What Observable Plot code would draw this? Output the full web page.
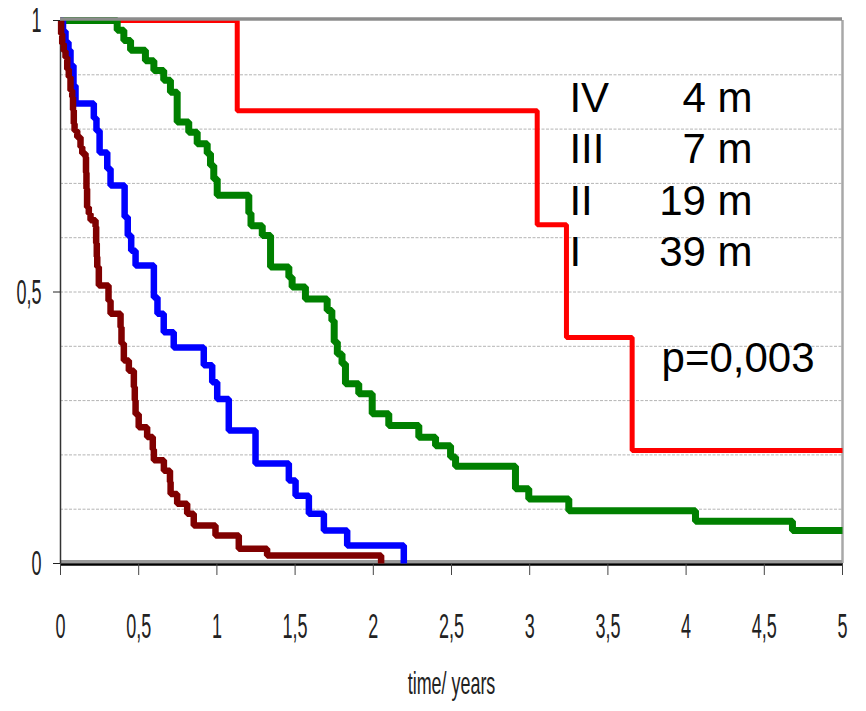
<!DOCTYPE html>
<html><head><meta charset="utf-8">
<script src="https://cdn.jsdelivr.net/npm/d3@7"></script>
<script src="https://cdn.jsdelivr.net/npm/@observablehq/plot@0.6"></script>
<style>body{margin:0;background:#fff;}</style>
</head><body><div id="chart"></div>
<script>
// ---- data (time in years, survival probability) ----
const stageI_t = [0, 1.13, 3.048, 3.235, 3.655, 5];
const stageI_s = [1, 0.834, 0.624, 0.416, 0.208, 0.208];

const stageII_t = [0, 0.3625, 0.405, 0.448, 0.543, 0.597, 0.660, 0.703, 0.746, 0.820, 0.874, 0.938, 0.959, 0.980, 1.002, 1.204, 1.218, 1.290, 1.343, 1.460, 1.481, 1.566, 1.705, 1.735, 1.750, 1.770, 1.800, 1.822, 1.907, 1.993, 2.099, 2.291, 2.398, 2.494, 2.526, 2.909, 2.994, 3.250, 4.060, 4.680, 5];
const stageII_s = [1, 0.982, 0.963, 0.945, 0.926, 0.908, 0.890, 0.868, 0.813, 0.794, 0.773, 0.755, 0.733, 0.708, 0.678, 0.645, 0.622, 0.604, 0.546, 0.527, 0.509, 0.487, 0.466, 0.447, 0.408, 0.386, 0.368, 0.331, 0.3125, 0.276, 0.254, 0.2326, 0.217, 0.196, 0.179, 0.1375, 0.119, 0.097, 0.078, 0.061, 0.061];

const stageIII_t = [0, 0.016, 0.032, 0.051, 0.064, 0.083, 0.096, 0.213, 0.230, 0.250, 0.299, 0.320, 0.410, 0.430, 0.452, 0.480, 0.597, 0.620, 0.660, 0.724, 0.916, 0.970, 1.002, 1.076, 1.247, 1.460, 1.503, 1.588, 1.684, 1.833, 2.195];
const stageIII_s = [1, 0.98, 0.96, 0.945, 0.917, 0.88, 0.847, 0.82, 0.797, 0.757, 0.727, 0.696, 0.638, 0.604, 0.576, 0.549, 0.49, 0.46, 0.426, 0.398, 0.365, 0.334, 0.303, 0.245, 0.184, 0.153, 0.125, 0.0915, 0.061, 0.033, 0];

const stageIV_t = [0, 0.004, 0.011, 0.021, 0.032, 0.043, 0.053, 0.064, 0.075, 0.080, 0.085, 0.090, 0.107, 0.128, 0.139, 0.160, 0.163, 0.166, 0.170, 0.181, 0.192, 0.224, 0.228, 0.232, 0.235, 0.245, 0.307, 0.320, 0.384, 0.390, 0.405, 0.437, 0.469, 0.475, 0.480, 0.500, 0.554, 0.590, 0.597, 0.661, 0.700, 0.704, 0.746, 0.810, 0.852, 0.991, 1.140, 1.321, 2.050];
const stageIV_s = [1, 0.975, 0.957, 0.944, 0.932, 0.91, 0.896, 0.871, 0.859, 0.835, 0.81, 0.797, 0.785, 0.767, 0.755, 0.748, 0.72, 0.69, 0.656, 0.644, 0.632, 0.62, 0.59, 0.565, 0.546, 0.512, 0.484, 0.46, 0.435, 0.405, 0.374, 0.355, 0.325, 0.30, 0.275, 0.251, 0.233, 0.21, 0.19, 0.171, 0.15, 0.128, 0.11, 0.0915, 0.07, 0.0516, 0.027, 0.0147, 0];

const xTicks = [0, 0.5, 1, 1.5, 2, 2.5, 3, 3.5, 4, 4.5, 5];
const yTicks = [0, 0.5, 1];
const gridValues = [0.1, 0.2, 0.3, 0.4, 0.5, 0.6, 0.7, 0.8, 0.9];
const legendStages = ["IV", "III", "II", "I"];
const legendMedians = ["4 m", "7 m", "19 m", "39 m"];
const pValue = "p=0,003";
const xTitle = "time/ years";

const toRows = (ts, ss) => ts.map((t, i) => ({t, s: ss[i]}));
const fmt = d => String(d).replace(".", ",");

const chart = Plot.plot({
  width: 866, height: 711,
  marginLeft: 60, marginRight: 24, marginTop: 20, marginBottom: 148,
  style: {fontFamily: "'Liberation Sans', Arial, sans-serif", background: "#fff", color: "#222"},
  x: {domain: [0, 5]},
  y: {domain: [0, 1]},
  marks: [
    Plot.ruleY(gridValues, {stroke: "#b4b4b4", strokeWidth: 1, strokeDasharray: "3,1.5"}),
    Plot.ruleX([5], {stroke: "#a8a8a8", strokeWidth: 2.5}),
    Plot.ruleY([0], {stroke: "#9a9a9a", strokeWidth: 3, dy: -2}),
    Plot.ruleY([0], {stroke: "#000", strokeWidth: 2.5, dy: 1}),
    Plot.ruleX([0], {stroke: "#333", strokeWidth: 1.5}),
    Plot.line(toRows(stageI_t, stageI_s), {x: "t", y: "s", curve: "step-after", stroke: "#ff0000", strokeWidth: 5, strokeLinejoin: "miter", strokeLinecap: "butt"}),
    Plot.line(toRows(stageII_t, stageII_s), {x: "t", y: "s", curve: "step-after", stroke: "#008000", strokeWidth: 7, strokeLinejoin: "miter", strokeLinecap: "butt"}),
    Plot.line(toRows(stageIII_t, stageIII_s), {x: "t", y: "s", curve: "step-after", stroke: "#0000ff", strokeWidth: 6.5, strokeLinejoin: "miter", strokeLinecap: "butt"}),
    Plot.line(toRows(stageIV_t, stageIV_s), {x: "t", y: "s", curve: "step-after", stroke: "#800000", strokeWidth: 6.5, strokeLinejoin: "miter", strokeLinecap: "butt"}),
    Plot.ruleY([1], {stroke: "#8c8c8c", strokeWidth: 3.5, dy: -1.5}),
    Plot.axisX({ticks: xTicks, tickSize: 12, tickPadding: 37, tickFormat: fmt, fontSize: 36, stroke: "#444", label: null}),
    Plot.axisY({ticks: yTicks, tickSize: 7, tickPadding: 12, tickFormat: fmt, fontSize: 36, stroke: "#222", label: null}),
    Plot.text([xTitle], {frameAnchor: "bottom", dy: 130, fontSize: 32, fill: "#222"}),
    Plot.text(legendStages, {x: 3.254, y: (d, i) => 0.856 - i * 0.0943, text: d => d, textAnchor: "start", fontSize: 42, fill: "#000"}),
    Plot.text(legendMedians, {x: 4.425, y: (d, i) => 0.856 - i * 0.0943, text: d => d, textAnchor: "end", fontSize: 42, fill: "#000"}),
    Plot.text([pValue], {x: 3.843, y: 0.377, text: d => d, textAnchor: "start", fontSize: 42, fill: "#000"})
  ]
});

// condensed look for axis texts
d3.select(chart).selectAll("text").each(function() {
  const g = this.parentNode;
  const lab = (g && g.getAttribute && g.getAttribute("aria-label")) || "";
  const isTick = lab.includes("tick label");
  const isTitle = this.textContent === xTitle;
  if (!isTick && !isTitle) return;
  const sx = isTick ? 0.5 : 0.56;
  let tr = this.getAttribute("transform");
  if (!tr) {
    const x = +this.getAttribute("x") || 0, y = +this.getAttribute("y") || 0;
    this.removeAttribute("x"); this.removeAttribute("y");
    tr = `translate(${x},${y})`;
  }
  this.setAttribute("transform", tr + ` scale(${sx},1)`);
});

document.getElementById("chart").appendChild(chart);
</script>
</body></html>
